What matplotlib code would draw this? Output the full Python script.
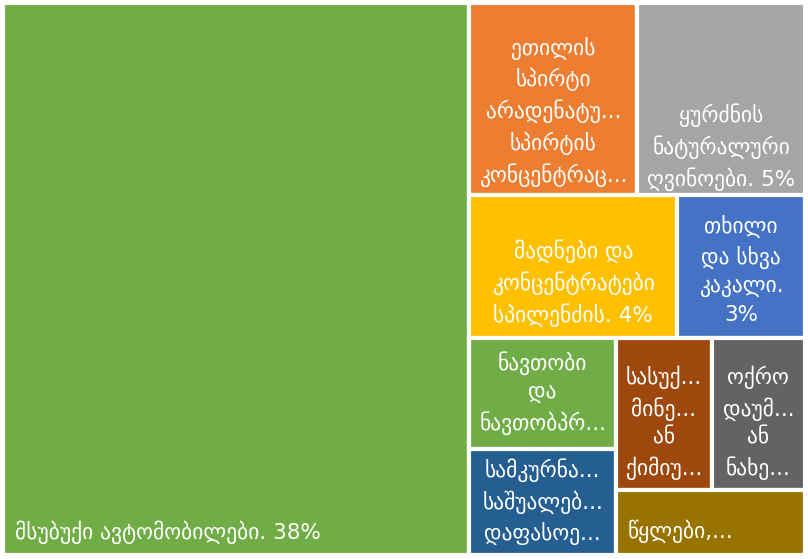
"""Treemap: Georgian export structure, top items."""

import matplotlib
matplotlib.use("Agg")
import matplotlib.pyplot as plt
from matplotlib.patches import Rectangle

labels = [
    "მსუბუქი ავტომობილები. 38%",
    "ეთილის\nსპირტი\nარადენატუ...\nსპირტის\nკონცენტრაც...",
    "ყურძნის\nნატურალური\nღვინოები. 5%",
    "მადნები და\nკონცენტრატები\nსპილენძის. 4%",
    "თხილი\nდა სხვა\nკაკალი.\n3%",
    "ნავთობი\nდა\nნავთობპრ...",
    "სამკურნა...\nსაშუალებ...\nდაფასოე...",
    "სასუქ...\nმინე...\nან\nქიმიუ...",
    "ოქრო\nდაუმ...\nან\nნახე...",
    "წყლები,...",
]
values = [38.0, 4.75, 4.75, 4.4, 2.7, 2.4, 2.3, 2.15, 2.1, 1.8]
colors = ["#70AD47", "#ED7D31", "#A5A5A5", "#FFC000", "#4472C4",
          "#70AD47", "#255E91", "#9E480E", "#636363", "#997300"]

# label placement inside each cell: (horizontal mode, vertical fraction)
label_pos = [("left", 0.958), ("center", 0.567), ("center", 0.75),
             ("center", 0.62), ("center", 0.525), ("center", 0.5),
             ("center", 0.5), ("center", 0.554), ("center", 0.554),
             ("left", 0.63)]

W, H = 802.0, 552.0


def worst(row, side):
    s = sum(row)
    return max(max(side ** 2 * r / s ** 2, s ** 2 / (side ** 2 * r)) for r in row)


def squarify(sizes, x, y, w, h):
    total = sum(sizes)
    sizes = [v * w * h / total for v in sizes]
    rects = []
    while sizes:
        side = min(w, h)
        row = [sizes[0]]
        i = 1
        while i < len(sizes) and worst(row + [sizes[i]], side) <= worst(row, side):
            row.append(sizes[i])
            i += 1
        sizes = sizes[i:]
        s = sum(row)
        if w >= h:
            sw = s / h
            yy = y
            for r in row:
                rects.append((x, yy, sw, r / sw))
                yy += r / sw
            x += sw
            w -= sw
        else:
            sh = s / w
            xx = x
            for r in row:
                rects.append((xx, y, r / sh, sh))
                xx += r / sh
            y += sh
            h -= sh
    return rects


fig = plt.figure(figsize=(8.08, 5.59), dpi=100)
ax = fig.add_axes([3 / 808, 4 / 559, W / 808, H / 559])
ax.set_xlim(0, W)
ax.set_ylim(H, 0)
ax.axis("off")

for (x, y, w, h), c, lab, (mode, fy) in zip(squarify(values, 0, 0, W, H),
                                           colors, labels, label_pos):
    ax.add_patch(Rectangle((x, y), w, h, facecolor=c, edgecolor="white",
                           linewidth=3, clip_on=False))
    if mode == "left":
        ax.text(x + 12, y + h * fy, lab, color="white", fontsize=15.5,
                ha="left", va="center", family="DejaVu Sans")
    else:
        ax.text(x + w / 2, y + h * fy, lab, color="white", fontsize=15.5,
                ha="center", va="center", linespacing=1.45,
                multialignment="center", family="DejaVu Sans")

fig.savefig("out.png", dpi=100)
plt.close(fig)
